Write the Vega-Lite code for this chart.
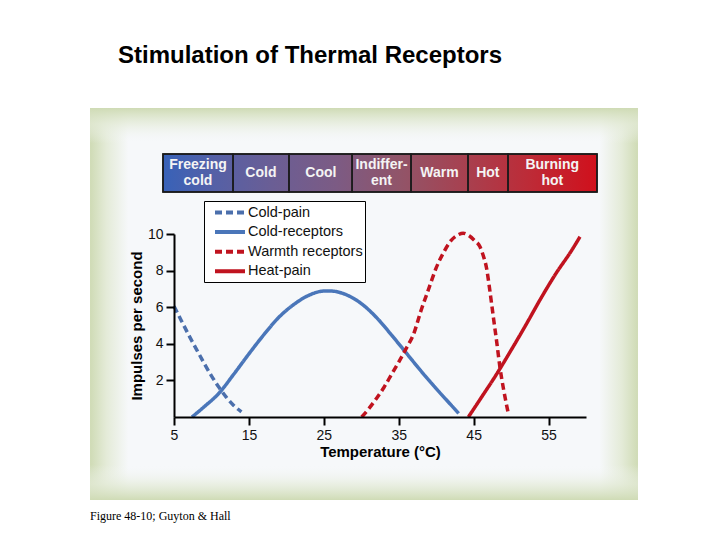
{
  "$schema": "https://vega.github.io/schema/vega-lite/v6.json",
  "width": 412,
  "height": 183,
  "autosize": {"type": "none"},
  "padding": {"left": 174, "top": 234, "right": 134, "bottom": 123},
  "background": "white",
  "title": {
    "text": "Stimulation of Thermal Receptors",
    "anchor": "start",
    "frame": "group",
    "dx": -56,
    "offset": 40,
    "font": "Liberation Sans",
    "fontSize": 24,
    "fontWeight": "bold",
    "color": "#000000"
  },
  "config": {
    "view": {"stroke": null},
    "font": "Liberation Sans",
    "axis": {"labelFontSize": 14, "labelOverlap": false, "labelFlush": false, "titleFontSize": 15}
  },
  "datasets": {
    "curves": [
      {"series": "Cold-pain", "t": 5, "v": 6.05},
      {"series": "Cold-pain", "t": 6, "v": 5.25},
      {"series": "Cold-pain", "t": 7, "v": 4.45},
      {"series": "Cold-pain", "t": 8, "v": 3.7},
      {"series": "Cold-pain", "t": 9, "v": 2.95},
      {"series": "Cold-pain", "t": 10, "v": 2.25},
      {"series": "Cold-pain", "t": 11, "v": 1.62},
      {"series": "Cold-pain", "t": 12, "v": 1.07},
      {"series": "Cold-pain", "t": 13, "v": 0.62},
      {"series": "Cold-pain", "t": 14, "v": 0.28},
      {"series": "Cold-receptors", "t": 7.4, "v": 0},
      {"series": "Cold-receptors", "t": 9, "v": 0.55},
      {"series": "Cold-receptors", "t": 11, "v": 1.3},
      {"series": "Cold-receptors", "t": 13, "v": 2.35},
      {"series": "Cold-receptors", "t": 15, "v": 3.45},
      {"series": "Cold-receptors", "t": 17, "v": 4.5},
      {"series": "Cold-receptors", "t": 19, "v": 5.45},
      {"series": "Cold-receptors", "t": 21, "v": 6.15},
      {"series": "Cold-receptors", "t": 23, "v": 6.65},
      {"series": "Cold-receptors", "t": 25, "v": 6.88},
      {"series": "Cold-receptors", "t": 26, "v": 6.88},
      {"series": "Cold-receptors", "t": 28, "v": 6.68},
      {"series": "Cold-receptors", "t": 30, "v": 6.2},
      {"series": "Cold-receptors", "t": 32, "v": 5.45},
      {"series": "Cold-receptors", "t": 34, "v": 4.5},
      {"series": "Cold-receptors", "t": 36, "v": 3.5},
      {"series": "Cold-receptors", "t": 38, "v": 2.5},
      {"series": "Cold-receptors", "t": 40, "v": 1.55},
      {"series": "Cold-receptors", "t": 42, "v": 0.65},
      {"series": "Cold-receptors", "t": 43, "v": 0.2},
      {"series": "Warmth receptors", "t": 30.06, "v": 0},
      {"series": "Warmth receptors", "t": 31, "v": 0.45},
      {"series": "Warmth receptors", "t": 32, "v": 1.0},
      {"series": "Warmth receptors", "t": 33, "v": 1.6},
      {"series": "Warmth receptors", "t": 34, "v": 2.3},
      {"series": "Warmth receptors", "t": 35, "v": 3.0},
      {"series": "Warmth receptors", "t": 36, "v": 3.75},
      {"series": "Warmth receptors", "t": 37, "v": 4.55},
      {"series": "Warmth receptors", "t": 38, "v": 5.85},
      {"series": "Warmth receptors", "t": 39, "v": 7.0},
      {"series": "Warmth receptors", "t": 40, "v": 8.15},
      {"series": "Warmth receptors", "t": 41, "v": 9.0},
      {"series": "Warmth receptors", "t": 42, "v": 9.65},
      {"series": "Warmth receptors", "t": 43, "v": 9.97},
      {"series": "Warmth receptors", "t": 43.6, "v": 10.04},
      {"series": "Warmth receptors", "t": 44.4, "v": 9.9},
      {"series": "Warmth receptors", "t": 45.1, "v": 9.65},
      {"series": "Warmth receptors", "t": 45.85, "v": 9.3},
      {"series": "Warmth receptors", "t": 46.3, "v": 8.8},
      {"series": "Warmth receptors", "t": 46.74, "v": 8.1},
      {"series": "Warmth receptors", "t": 47.1, "v": 7.1},
      {"series": "Warmth receptors", "t": 47.41, "v": 6.15},
      {"series": "Warmth receptors", "t": 47.75, "v": 5.1},
      {"series": "Warmth receptors", "t": 48.08, "v": 4.1},
      {"series": "Warmth receptors", "t": 48.5, "v": 2.75},
      {"series": "Warmth receptors", "t": 49, "v": 1.5},
      {"series": "Warmth receptors", "t": 49.35, "v": 0.75},
      {"series": "Warmth receptors", "t": 49.65, "v": 0.15},
      {"series": "Heat-pain", "t": 44.3, "v": 0},
      {"series": "Heat-pain", "t": 46, "v": 1.05},
      {"series": "Heat-pain", "t": 48, "v": 2.3},
      {"series": "Heat-pain", "t": 50, "v": 3.65},
      {"series": "Heat-pain", "t": 52, "v": 5.05},
      {"series": "Heat-pain", "t": 54, "v": 6.5},
      {"series": "Heat-pain", "t": 56, "v": 7.85},
      {"series": "Heat-pain", "t": 58, "v": 9.05},
      {"series": "Heat-pain", "t": 59.2, "v": 9.85}
    ],
    "bands": [
      {"label": "Freezing\ncold", "start": 3.53, "end": 12.88, "mid": 8.2},
      {"label": "Cold", "start": 12.88, "end": 20.35, "mid": 16.6},
      {"label": "Cool", "start": 20.35, "end": 28.77, "mid": 24.6},
      {"label": "Indiffer-\nent", "start": 28.77, "end": 36.64, "mid": 32.7},
      {"label": "Warm", "start": 36.64, "end": 44.25, "mid": 40.45},
      {"label": "Hot", "start": 44.25, "end": 49.59, "mid": 46.9},
      {"label": "Burning\nhot", "start": 49.59, "end": 61.47, "mid": 55.5}
    ]
  },
  "layer": [
    {
      "data": {"values": [{}]},
      "mark": {
        "type": "rect",
        "fill": {
          "gradient": "linear", "x1": 0, "y1": 0, "x2": 1, "y2": 0,
          "stops": [
            {"offset": 0, "color": "#cfdbb5"},
            {"offset": 0.03, "color": "#e4ebd8"},
            {"offset": 0.07, "color": "#f6f8fa"},
            {"offset": 0.93, "color": "#f6f8fa"},
            {"offset": 0.97, "color": "#e4ebd8"},
            {"offset": 1, "color": "#cfdbb5"}
          ]
        }
      },
      "encoding": {
        "x": {
          "datum": -6.21, "type": "quantitative", "scale": {"domain": [5, 60]},
          "axis": {
            "title": "Temperature (°C)",
            "values": [5, 10, 15, 20, 25, 30, 35, 40, 45, 50, 55, 60],
            "zindex": 2, "grid": false,
            "domainColor": "#000000", "domainWidth": 2,
            "tickColor": "#000000", "tickWidth": 2, "tickSize": 8,
            "labelFont": "Liberation Sans", "labelFontSize": 14, "labelColor": "#111111",
            "labelOverlap": false, "labelFlush": false, "labelPadding": 3,
            "titleFont": "Liberation Sans", "titleFontSize": 15, "titleFontWeight": "bold", "titleColor": "#000000",
            "titlePadding": 2
          }
        },
        "x2": {"datum": 66.94},
        "y": {
          "datum": 16.88, "type": "quantitative", "scale": {"domain": [0, 10]},
          "axis": {
            "title": "Impulses per second",
            "values": [2, 4, 6, 8, 10],
            "zindex": 2, "grid": false,
            "domainColor": "#000000", "domainWidth": 2,
            "tickColor": "#000000", "tickWidth": 2, "tickSize": 8,
            "labelFont": "Liberation Sans", "labelFontSize": 14, "labelColor": "#111111",
            "labelOverlap": false, "labelFlush": false, "labelPadding": 3,
            "titleFont": "Liberation Sans", "titleFontSize": 15, "titleFontWeight": "bold", "titleColor": "#000000",
            "titlePadding": 3
          }
        },
        "y2": {"datum": -4.54}
      }
    },
    {
      "data": {"values": [{}]},
      "mark": {
        "type": "rect",
        "fill": {
          "gradient": "linear", "x1": 0, "y1": 0, "x2": 0, "y2": 1,
          "stops": [
            {"offset": 0, "color": "#cfdbb5"},
            {"offset": 0.04, "color": "rgba(228,235,216,0.7)"},
            {"offset": 0.09, "color": "rgba(246,248,250,0)"},
            {"offset": 0.91, "color": "rgba(246,248,250,0)"},
            {"offset": 0.96, "color": "rgba(228,235,216,0.7)"},
            {"offset": 1, "color": "#cfdbb5"}
          ]
        }
      },
      "encoding": {
        "x": {"datum": -6.21, "type": "quantitative"},
        "x2": {"datum": 66.94},
        "y": {"datum": 16.88, "type": "quantitative"},
        "y2": {"datum": -4.54}
      }
    },
    {
      "data": {"values": [{}]},
      "mark": {
        "type": "rect",
        "fill": {
          "gradient": "linear", "x1": 0, "y1": 0, "x2": 1, "y2": 0,
          "stops": [
            {"offset": 0, "color": "#3862b8"},
            {"offset": 0.12, "color": "#5560a6"},
            {"offset": 0.25, "color": "#6a5e95"},
            {"offset": 0.4, "color": "#7c5b84"},
            {"offset": 0.55, "color": "#925468"},
            {"offset": 0.7, "color": "#a8404f"},
            {"offset": 0.85, "color": "#be2a36"},
            {"offset": 1, "color": "#d0101c"}
          ]
        },
        "stroke": "#1a1a1a",
        "strokeWidth": 1.5
      },
      "encoding": {
        "x": {"datum": 3.53, "type": "quantitative"},
        "x2": {"datum": 61.47},
        "y": {"datum": 14.37, "type": "quantitative"},
        "y2": {"datum": 12.3}
      }
    },
    {
      "data": {"name": "bands"},
      "mark": {"type": "rect", "fill": "transparent", "stroke": "#1a1a1a", "strokeWidth": 1.5},
      "encoding": {
        "x": {"field": "start", "type": "quantitative"},
        "x2": {"field": "end"},
        "y": {"datum": 14.37, "type": "quantitative"},
        "y2": {"datum": 12.3}
      }
    },
    {
      "data": {"name": "bands"},
      "transform": [{"filter": "indexof(datum.label, '\\n') < 0"}],
      "mark": {
        "type": "text",
        "color": "#f4f4f4",
        "font": "Liberation Sans",
        "fontSize": 14,
        "fontWeight": "bold",
        "align": "center",
        "baseline": "middle"
      },
      "encoding": {
        "x": {"field": "mid", "type": "quantitative"},
        "y": {"datum": 13.33, "type": "quantitative"},
        "text": {"field": "label"}
      }
    },
    {
      "data": {"name": "bands"},
      "transform": [{"filter": "indexof(datum.label, '\\n') >= 0"}],
      "mark": {
        "type": "text",
        "color": "#f4f4f4",
        "font": "Liberation Sans",
        "fontSize": 14,
        "fontWeight": "bold",
        "align": "center",
        "baseline": "middle",
        "lineBreak": "\n",
        "lineHeight": 16,
        "dy": -8
      },
      "encoding": {
        "x": {"field": "mid", "type": "quantitative"},
        "y": {"datum": 13.33, "type": "quantitative"},
        "text": {"field": "label"}
      }
    },
    {
      "data": {"name": "curves"},
      "mark": {"type": "line", "interpolate": "monotone", "strokeWidth": 3.5},
      "encoding": {
        "x": {
          "field": "t", "type": "quantitative",
          "scale": {"domain": [5, 60]},
          "axis": {
            "title": "Temperature (°C)",
            "values": [5, 10, 15, 20, 25, 30, 35, 40, 45, 50, 55, 60],
            "zindex": 2, "grid": false,
            "domainColor": "#000000", "domainWidth": 2,
            "tickColor": "#000000", "tickWidth": 2, "tickSize": 8,
            "labelFont": "Liberation Sans", "labelFontSize": 14, "labelColor": "#111111",
            "labelOverlap": false, "labelFlush": false, "labelPadding": 3,
            "titleFont": "Liberation Sans", "titleFontSize": 15, "titleFontWeight": "bold", "titleColor": "#000000",
            "titlePadding": 2
          }
        },
        "y": {
          "field": "v", "type": "quantitative",
          "scale": {"domain": [0, 10]},
          "axis": {
            "title": "Impulses per second",
            "values": [2, 4, 6, 8, 10],
            "zindex": 2, "grid": false,
            "domainColor": "#000000", "domainWidth": 2,
            "tickColor": "#000000", "tickWidth": 2, "tickSize": 8,
            "labelFont": "Liberation Sans", "labelFontSize": 14, "labelColor": "#111111",
            "labelOverlap": false, "labelFlush": false, "labelPadding": 3,
            "titleFont": "Liberation Sans", "titleFontSize": 15, "titleFontWeight": "bold", "titleColor": "#000000",
            "titlePadding": 3
          }
        },
        "color": {
          "field": "series", "type": "nominal",
          "scale": {
            "domain": ["Cold-pain", "Cold-receptors", "Warmth receptors", "Heat-pain"],
            "range": ["#4b6fac", "#4a76b9", "#c0131f", "#c0131f"]
          },
          "legend": {
            "title": null,
            "orient": "none",
            "legendX": 30,
            "legendY": -33,
            "symbolType": "M-1,0H3",
            "symbolSize": 225,
            "symbolStrokeWidth": 4,
            "symbolOffset": 7,
            "labelOffset": 16,
            "labelFont": "Liberation Sans",
            "labelFontSize": 14.5,
            "labelColor": "#111111",
            "rowPadding": 1.6,
            "padding": 2,
            "fillColor": "#ffffff",
            "strokeColor": "#000000"
          }
        },
        "strokeDash": {
          "field": "series", "type": "nominal",
          "scale": {
            "domain": ["Cold-pain", "Cold-receptors", "Warmth receptors", "Heat-pain"],
            "range": [[7, 4], [1, 0], [7, 4], [1, 0]]
          },
          "legend": {
            "title": null,
            "orient": "none",
            "legendX": 30,
            "legendY": -33,
            "symbolType": "M-1,0H3",
            "symbolSize": 225,
            "symbolStrokeWidth": 4,
            "symbolOffset": 7,
            "labelOffset": 16,
            "labelFont": "Liberation Sans",
            "labelFontSize": 14.5,
            "labelColor": "#111111",
            "rowPadding": 1.6,
            "padding": 2,
            "fillColor": "#ffffff",
            "strokeColor": "#000000"
          }
        }
      }
    },
    {
      "data": {"values": [{"caption": "Figure 48-10; Guyton & Hall"}]},
      "mark": {"type": "text", "font": "Liberation Serif", "fontSize": 12, "color": "#000000", "align": "left", "baseline": "middle"},
      "encoding": {
        "x": {"datum": -6.21, "type": "quantitative"},
        "y": {"datum": -5.41, "type": "quantitative"},
        "text": {"field": "caption"}
      }
    }
  ]
}
